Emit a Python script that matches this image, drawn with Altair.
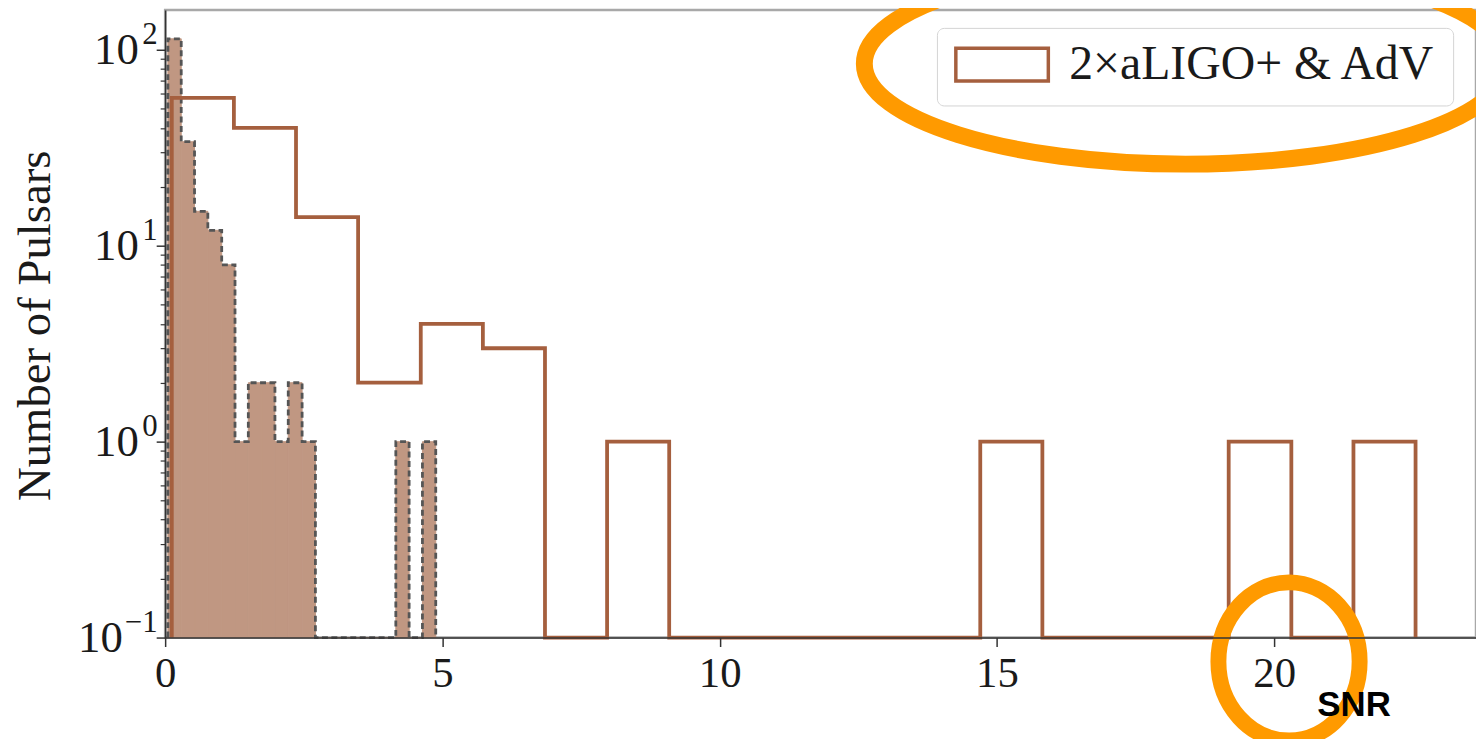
import altair as alt
import pandas as pd

# ---------------- data ----------------
coarse_edges = [0.12, 1.24, 2.36, 3.48, 4.61, 5.73, 6.85, 7.97, 9.09, 10.21, 11.33,
                12.46, 13.58, 14.70, 15.82, 16.94, 18.06, 19.18, 20.31, 21.43, 22.55]
coarse_counts = [57, 40, 14, 2, 4, 3, 0, 1, 0, 0, 0, 0, 0, 1, 0, 0, 0, 1, 0, 1]

fine_edges = [0.05, 0.29, 0.53, 0.77, 1.02, 1.26, 1.50, 1.74, 1.98, 2.22, 2.47,
              2.71, 2.95, 3.19, 3.43, 3.67, 3.91, 4.16, 4.40, 4.64, 4.88]
fine_counts = [114, 34, 15, 12, 8, 1, 2, 2, 1, 2, 1, 0, 0, 0, 0, 0, 0, 1, 0, 1]

series_label = "2×aLIGO+ & AdV"
x_ticks = [0, 5, 10, 15, 20]
y_major = [0.1, 1, 10, 100]
y_major_base = "10"
y_major_exponents = ["−1", "0", "1", "2"]
y_minor = [0.2, 0.3, 0.4, 0.5, 0.6, 0.7, 0.8, 0.9,
           2, 3, 4, 5, 6, 7, 8, 9,
           20, 30, 40, 50, 60, 70, 80, 90]
y_title = "Number of Pulsars"
x_title = "SNR"

# ---------------- layout / style ----------------
Y_MIN, Y_MAX = 0.1, 160
X_MAX = 23.64
PLOT_W, PLOT_H = 1318, 631
SERIF = "Liberation Serif"
LINE_C = "#a55f3e"
FILL_C = "#c09782"
EDGE_C = "#555555"
ORANGE = "#ff9a00"
TEXT_C = "#1a1a1a"


def outline(edges, counts):
    xs = [edges[0]] + list(edges[:-1]) + [edges[-1]]
    ys = [Y_MIN] + [c if c > 0 else Y_MIN for c in counts] + [Y_MIN]
    return pd.DataFrame({"snr": xs, "n": ys, "i": list(range(len(xs)))})


fine_bins = pd.DataFrame({
    "lo": fine_edges[:-1], "hi": fine_edges[1:],
    "n": [c if c > 0 else Y_MIN for c in fine_counts],
})
fine_df = outline(fine_edges, fine_counts)
coarse_df = outline(coarse_edges, coarse_counts)
coarse_df["series"] = series_label

xscale = alt.Scale(domain=[0, X_MAX], nice=False, zero=False)
yscale = alt.Scale(type="log", domain=[Y_MIN, Y_MAX], nice=False)

exp_expr = " : ".join(
    f"datum.value < {v * 1.5} ? '{t}'" for v, t in zip(y_major[:-1], y_major_exponents[:-1])
) + f" : '{y_major_exponents[-1]}'"
# the '10' part sits further left when the exponent is two characters wide
wide_exp = [v for v, t in zip(y_major, y_major_exponents) if len(t) > 1]
wide_test = " || ".join(f"(datum.value > {v * 0.9} && datum.value < {v * 1.1})" for v in wide_exp)

x_axis = alt.Axis(
    values=x_ticks, format="d", grid=False,
    labelFont=SERIF, labelFontSize=43, labelColor=TEXT_C,
    labelBaseline="alphabetic", labelPadding=40, labelFlush=False,
    tickSize=9, tickWidth=1.5, tickColor="#333333",
    domainColor="#333333", domainWidth=1.5,
    title=x_title, titleFont="Liberation Sans", titleFontSize=35,
    titleFontWeight="bold", titleColor="black",
    titleX=1158, titleY=78, titleAlign="left", titleBaseline="alphabetic",
    zindex=1,
)
y_axis_base = alt.Axis(
    values=y_major, labelExpr=f"'{y_major_base}'", grid=False, orient="left",
    labelFont=SERIF, labelFontSize=45, labelColor=TEXT_C,
    labelBaseline="middle", labelAlign="right",
    labelPadding=alt.ExprRef(f"({wide_test}) ? 34 : 18"),
    tickSize=9, tickWidth=1.5, tickColor="#333333",
    domainColor="#333333", domainWidth=1.5,
    title=y_title, titleFont=SERIF, titleFontSize=47, titleFontWeight="normal",
    titleColor=TEXT_C, titleAngle=270, titleX=-116, titleY=317,
    titleAlign="center", titleBaseline="alphabetic",
    zindex=1,
)
y_axis_exp = alt.Axis(
    values=y_major, labelExpr=exp_expr, grid=False, orient="left",
    labelFont=SERIF, labelFontSize=31, labelColor=TEXT_C,
    labelBaseline="middle", labelAlign="right", labelPadding=8, labelOffset=-15,
    ticks=False, domain=False, title=None, zindex=1,
)
y_axis_minor = alt.Axis(
    values=y_minor, labels=False, title=None, grid=False, domain=False,
    orient="left", tickSize=5, tickWidth=1.2, tickColor="#333333", zindex=1,
)

fine_fill = alt.Chart(fine_bins).mark_rect(
    color=FILL_C, stroke=FILL_C, strokeWidth=1, opacity=1
).encode(
    x=alt.X("lo:Q", scale=xscale, axis=x_axis),
    x2="hi:Q",
    y=alt.Y("n:Q", scale=yscale, axis=y_axis_base),
    y2=alt.datum(Y_MIN),
)

fine_edge = alt.Chart(fine_df).mark_line(
    interpolate="step-after", color=EDGE_C, strokeWidth=2.8, strokeDash=[6, 3.5]
).encode(
    x=alt.X("snr:Q", scale=xscale, axis=x_axis),
    y=alt.Y("n:Q", scale=yscale, axis=y_axis_minor),
    order="i:Q",
)

legend_symbol = "M-1,-0.355L1,-0.355L1,0.355L-1,0.355Z"
coarse_line = alt.Chart(coarse_df).mark_line(
    interpolate="step-after", strokeWidth=3.8
).encode(
    x=alt.X("snr:Q", scale=xscale, axis=x_axis),
    y=alt.Y("n:Q", scale=yscale, axis=y_axis_exp),
    order="i:Q",
    stroke=alt.Stroke(
        "series:N",
        scale=alt.Scale(domain=[series_label], range=[LINE_C]),
        legend=alt.Legend(
            title=None, orient="none", legendX=776, legendY=18,
            symbolType=legend_symbol, symbolSize=8649, symbolStrokeWidth=3.5,
            symbolFillColor="white",
            labelFont=SERIF, labelFontSize=48, labelColor=TEXT_C,
            labelLimit=0, labelOffset=19, clipHeight=40, padding=17,
            fillColor="white", strokeColor="#d4d4d4", cornerRadius=7,
        ),
    ),
)


def ellipse_path(ratio):
    k = 0.5523
    b = ratio
    return (f"M1,0C1,{k*b:.4f},{k:.4f},{b:.4f},0,{b:.4f}"
            f"C{-k:.4f},{b:.4f},-1,{k*b:.4f},-1,0"
            f"C-1,{-k*b:.4f},{-k:.4f},{-b:.4f},0,{-b:.4f}"
            f"C{k:.4f},{-b:.4f},1,{-k*b:.4f},1,0Z")


anno = pd.DataFrame({"a": [0]})
big_ellipse = alt.Chart(anno).mark_point(
    shape=ellipse_path(101 / 323), size=(2 * 323) ** 2, filled=False,
    stroke=ORANGE, strokeWidth=17, opacity=1, clip=False,
).encode(x=alt.value(1026), y=alt.value(54))

small_ellipse = alt.Chart(anno).mark_point(
    shape=ellipse_path(79.5 / 71), size=(2 * 71) ** 2, filled=False,
    stroke=ORANGE, strokeWidth=16, opacity=1, clip=False,
).encode(x=alt.value(1130), y=alt.value(655))

chart = alt.layer(
    fine_fill, fine_edge, coarse_line, big_ellipse, small_ellipse
).resolve_axis(y="independent").properties(
    width=PLOT_W, height=PLOT_H,
    autosize=alt.AutoSizeParams(type="none"),
    padding={"left": 158, "top": 0, "right": 0, "bottom": 100},
).configure_view(
    stroke="#a8a8a8", strokeWidth=2.5
)

chart.save("out.html", embed_options={"renderer": "svg", "actions": False})
